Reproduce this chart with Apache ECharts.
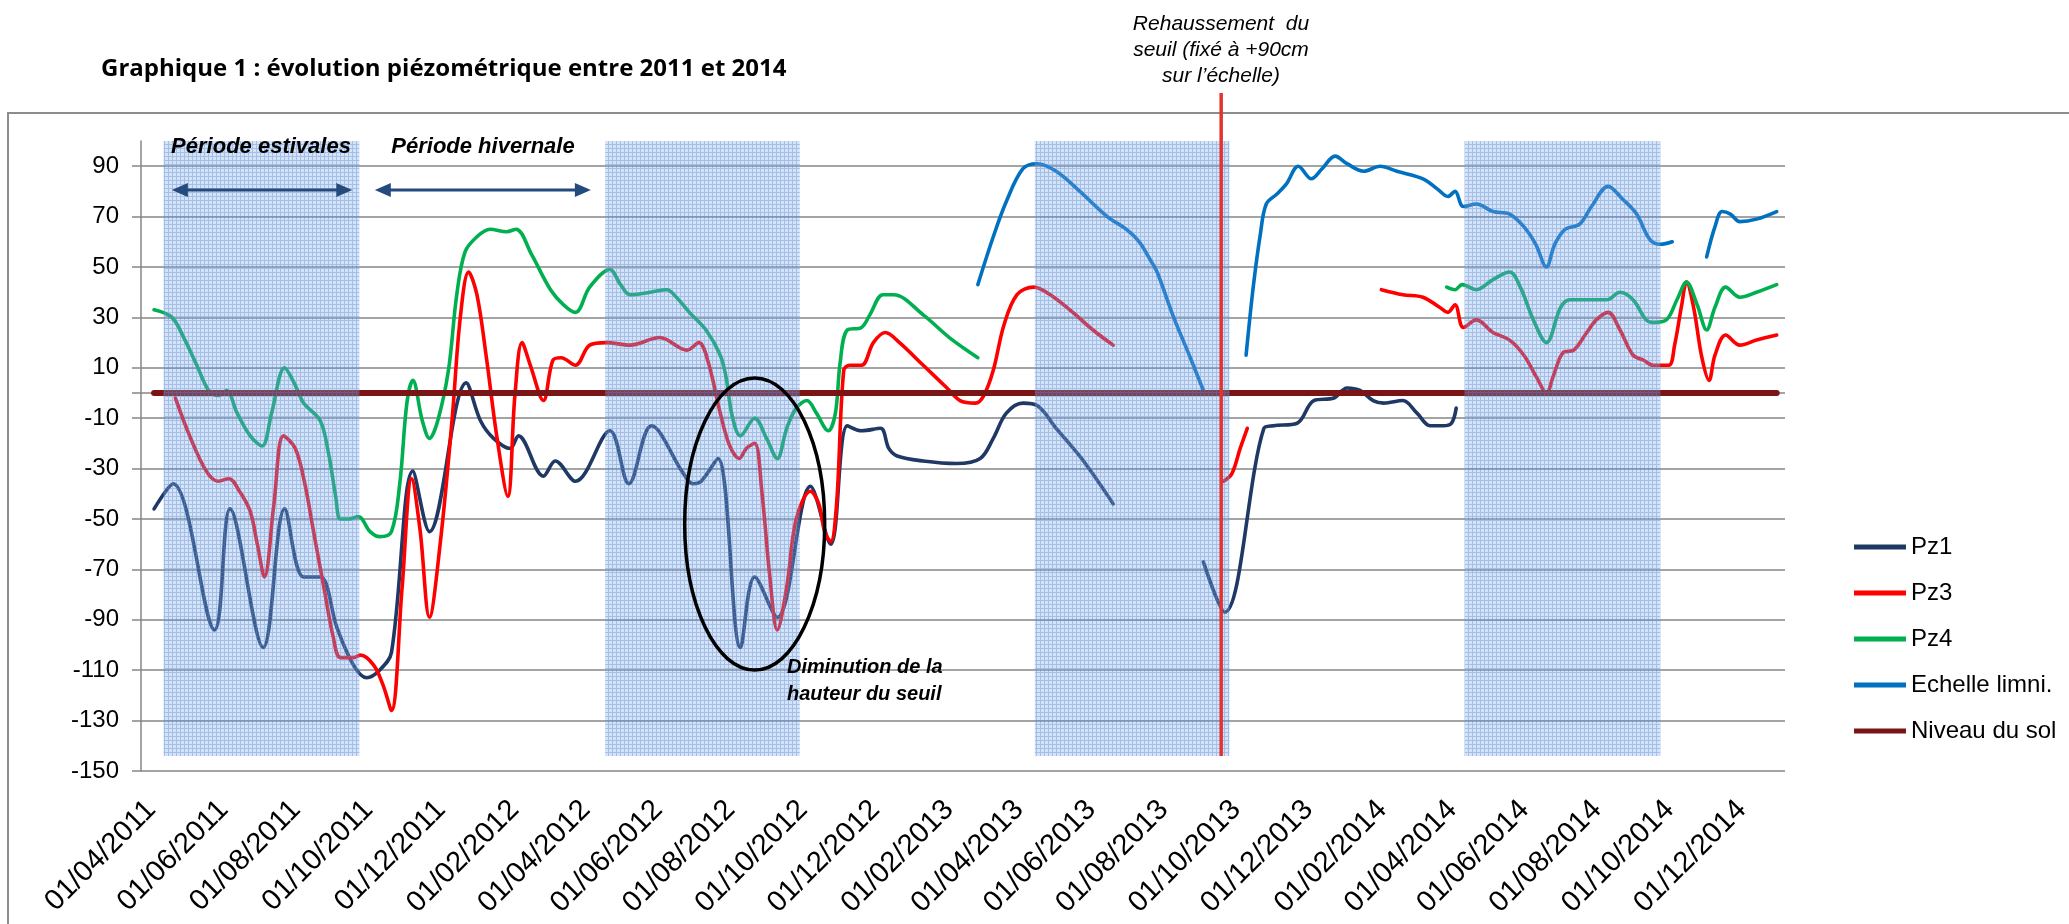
<!DOCTYPE html>
<html><head><meta charset="utf-8">
<script src="https://cdn.jsdelivr.net/npm/echarts@6/dist/echarts.min.js"></script>
<style>html,body{margin:0;padding:0;background:#fff;}#chart{width:2069px;height:924px;}</style>
</head><body><div id="chart"></div>
<script>
// ---------- DATA (x = day offset from 01/04/2011, y = level in cm) ----------
const xTickLabels = ['01/04/2011','01/06/2011','01/08/2011','01/10/2011','01/12/2011','01/02/2012','01/04/2012','01/06/2012','01/08/2012','01/10/2012','01/12/2012','01/02/2013','01/04/2013','01/06/2013','01/08/2013','01/10/2013','01/12/2013','01/02/2014','01/04/2014','01/06/2014','01/08/2014','01/10/2014','01/12/2014'];
const yTickLabels = [-150,-130,-110,-90,-70,-50,-30,-10,10,30,50,70,90];
const seriesNames = ['Pz1','Pz3','Pz4','Echelle limni.','Niveau du sol'];

const pz1 = [[11,-46],[27,-36],[62,-94],[75,-46],[103,-101],[121,-46],[137,-73],[151,-73],[165,-93],[179,-108],[190,-113],[201,-110],[211,-103],[229,-31],[243,-55],[274,4],[286,-11],[297,-18],[311,-22],[318,-17],[339,-33],[349,-27],[366,-35],[395,-15],[411,-36],[430,-13],[457,-32],[465,-36],[472,-35],[486,-26],[505,-101],[517,-73],[536,-89],[564,-37],[581,-60],[595,-13],[607,-15],[623,-14],[630,-22],[637,-25],[659,-27],[687,-28],[707,-26],[718,-18],[729,-8],[743,-4],[755,-5],[771,-14],[794,-27],[819,-44],[857,null],[895,-67],[913,-87],[946,-14],[954,-13],[974,-12],[988,-3],[1005,-2],[1016,2],[1027,1],[1038,-3],[1047,-4],[1063,-3],[1075,-8],[1086,-13],[1097,-13],[1104,-12],[1108,-6]];

const pz3 = [[29,-2],[41,-17],[55,-31],[65,-35],[74,-34],[83,-39],[92,-47],[98,-60],[104,-73],[112,-44],[120,-17],[130,-22],[138,-36],[145,-54],[154,-77],[162,-97],[168,-105],[179,-105],[185,-104],[196,-108],[204,-116],[211,-126],[220,-77],[228,-34],[235,-54],[243,-89],[252,-60],[262,-11],[269,30],[276,48],[283,39],[291,14],[300,-18],[309,-41],[315,-1],[321,20],[328,11],[339,-3],[347,13],[354,14],[366,11],[378,19],[392,20],[412,19],[437,22],[460,17],[470,20],[478,12],[488,-8],[496,-21],[504,-26],[510,-22],[517,-20],[523,-39],[530,-74],[536,-94],[544,-77],[552,-50],[564,-39],[571,-44],[576,-55],[581,-59],[586,-44],[592,9],[597,11],[607,11],[617,20],[627,24],[639,20],[659,11],[679,2],[690,-3],[703,-4],[710,-1],[718,9],[727,27],[738,39],[752,42],[766,39],[785,32],[802,25],[819,19],[865,null],[912,-35],[919,-32],[926,-22],[932,-14],[990,null],[1045,41],[1063,39],[1080,38],[1094,34],[1101,32],[1107,35],[1114,26],[1125,29],[1139,24],[1153,21],[1165,15],[1176,6],[1184,0],[1190,7],[1198,16],[1207,17],[1218,24],[1226,29],[1236,32],[1246,25],[1257,15],[1266,13],[1274,11],[1287,11],[1292,19],[1298,35],[1302,44],[1308,34],[1315,14],[1321,5],[1326,15],[1335,23],[1347,19],[1361,21],[1378,23]];

const pz4 = [[11,33],[26,30],[36,22],[47,11],[57,1],[65,-1],[72,1],[81,-8],[92,-17],[102,-21],[110,-8],[121,10],[129,4],[137,-4],[151,-11],[158,-24],[164,-41],[168,-50],[175,-50],[183,-49],[193,-55],[201,-57],[211,-55],[218,-36],[224,-4],[229,5],[237,-11],[243,-18],[250,-11],[259,9],[266,39],[273,56],[283,62],[294,65],[308,64],[316,65],[329,55],[345,41],[356,35],[366,32],[378,42],[395,49],[404,43],[412,39],[429,40],[443,41],[451,38],[462,32],[476,25],[488,15],[493,6],[498,-9],[505,-17],[517,-10],[527,-18],[536,-26],[544,-14],[552,-6],[561,-3],[569,-8],[579,-15],[585,-8],[589,12],[595,25],[607,26],[614,31],[625,39],[634,39],[659,31],[681,22],[705,14],[900,null],[1100,42],[1107,41],[1113,43],[1125,41],[1139,45],[1153,48],[1162,42],[1173,29],[1184,20],[1196,34],[1204,37],[1218,37],[1235,37],[1246,40],[1257,37],[1268,29],[1274,28],[1285,29],[1294,37],[1302,44],[1311,35],[1319,25],[1326,34],[1335,42],[1347,38],[1361,40],[1378,43]];

const echelle = [[705,43],[718,62],[729,76],[743,89],[755,91],[771,88],[791,80],[814,70],[830,65],[841,60],[850,53],[856,48],[870,30],[884,14],[895,1],[913,null],[931,15],[937,42],[943,63],[948,75],[957,79],[965,83],[975,90],[986,85],[995,89],[1006,94],[1016,91],[1030,88],[1044,90],[1058,88],[1080,85],[1092,81],[1101,78],[1107,80],[1114,74],[1125,75],[1139,72],[1153,71],[1165,66],[1175,59],[1184,50],[1191,59],[1200,65],[1212,67],[1222,74],[1236,82],[1248,77],[1260,71],[1271,61],[1280,59],[1290,60],[1305,null],[1319,54],[1326,66],[1332,72],[1339,71],[1347,68],[1361,69],[1378,72]];

const niveauSol = [[11,0],[1378,0]];

// summer periods (shaded), as [start day, end day]
const summerPeriods = [[19,184],[391,555],[753,917],[1115,1280]];
const thresholdRaiseDay = 910;
// ---------------------------------------------------------------------------

const DAY_MS = 86400000, ORIGIN = Date.UTC(2011, 3, 1);
const labelToDay = s => { const p = s.split('/'); return Math.round((Date.UTC(+p[2], +p[1]-1, +p[0]) - ORIGIN) / DAY_MS); };
const tickDays = xTickLabels.map(labelToDay);
const labelOf = v => { const i = tickDays.indexOf(Math.round(v)); return i >= 0 ? xTickLabels[i] : ''; };

const colors = ['#1f3864','#ff0000','#00b050','#0070c0','#7b1414'];
const datasets = [pz1, pz3, pz4, echelle, niveauSol];

// pattern for summer periods
const pc = document.createElement('canvas'); pc.width = 4; pc.height = 4;
const g = pc.getContext('2d');
g.fillStyle = 'rgba(125,168,228,0.32)'; g.fillRect(0,0,4,4);
g.fillStyle = 'rgba(80,130,210,0.38)'; g.fillRect(0,0,4,1); g.fillRect(0,1,1,3);

const FONT = 'Liberation Sans';
const lineSeries = datasets.map((d, i) => ({
  name: seriesNames[i], type: 'line', data: d,
  showSymbol: false, symbol: 'none', smooth: i === 4 ? false : 0.35,
  connectNulls: false, z: 2 + (i === 4 ? 1 : 0),
  color: colors[i], itemStyle: {color: colors[i]},
  lineStyle: {color: colors[i], width: i === 4 ? 6 : 3.6, cap: 'round', join: 'round'},
  emphasis: {disabled: true}, silent: true
}));

const option = {
  animation: false,
  backgroundColor: '#fff',
  grid: {left: 141, right: 284, top: 141, bottom: 153, containLabel: false, outerBoundsMode: 'none'},
  xAxis: {
    type: 'value', min: 0, max: 1385,
    axisLine: {show: false}, axisTick: {show: false}, splitLine: {show: false},
    axisLabel: {customValues: tickDays, formatter: v => labelOf(v), rotate: 45,
      align: 'right', verticalAlign: 'top',
      fontFamily: FONT, fontSize: 29, color: '#000', margin: 24, hideOverlap: false}
  },
  yAxis: {
    type: 'value', min: -150, max: 100,
    axisLine: {show: true, lineStyle: {color: '#868686', width: 1.5}},
    axisTick: {show: true, length: 9, customValues: yTickLabels.concat([0]), lineStyle: {color: '#868686', width: 1.5}},
    axisLabel: {customValues: yTickLabels, fontFamily: FONT, fontSize: 24, color: '#000', margin: 22},
    splitLine: {show: true, lineStyle: {color: '#868686', width: 1.5}}
  },
  legend: {
    orient: 'vertical', left: 1849, top: 530, icon: 'rect', itemWidth: 52, itemHeight: 5,
    itemGap: 22, itemTextGap: 5, data: seriesNames, selectedMode: false,
    textStyle: {fontFamily: FONT, fontSize: 24, color: '#000', lineHeight: 24}
  },
  series: lineSeries.concat([{
    type: 'custom', name: 'bands', z: 10, silent: true,
    data: summerPeriods.map(p => [p[0], p[1], -144, 100]),
    encode: {x: [0, 1], y: [2, 3]},
    renderItem: (params, api) => {
      const a = api.coord([api.value(0), api.value(3)]);
      const b = api.coord([api.value(1), api.value(2)]);
      return {type: 'rect', shape: {x: a[0], y: a[1], width: b[0]-a[0], height: b[1]-a[1]},
        style: {fill: {image: pc, repeat: 'repeat'}}};
    }
  }])
};

const chart = echarts.init(document.getElementById('chart'), null, {renderer: 'canvas', width: 2069, height: 924});
chart.setOption(option);

const px = (d, v) => chart.convertToPixel({gridIndex: 0}, [d, v]);
const redX = px(thresholdRaiseDay, 0)[0];
const ell = px(517, -52);
const arrowY = 190, arrowColor = '#254a7c';
function arrow(d1, d2) {
  const x1 = px(d1, 0)[0], x2 = px(d2, 0)[0];
  return [
    {type: 'line', z: 100, shape: {x1: x1 + 10, y1: arrowY, x2: x2 - 10, y2: arrowY}, style: {stroke: arrowColor, lineWidth: 3}},
    {type: 'polygon', z: 100, shape: {points: [[x1, arrowY], [x1 + 16, arrowY - 7], [x1 + 16, arrowY + 7]]}, style: {fill: arrowColor}},
    {type: 'polygon', z: 100, shape: {points: [[x2, arrowY], [x2 - 16, arrowY - 7], [x2 - 16, arrowY + 7]]}, style: {fill: arrowColor}}
  ];
}
const txt = (x, y, text, font, align, va, lh) => ({type: 'text', z: 110, x: x, y: y,
  style: {text: text, font: font, fill: '#000', align: align, textAlign: align, verticalAlign: va, textVerticalAlign: va, lineHeight: lh || 24}});

chart.setOption({graphic: [
  {type: 'rect', z: 0, shape: {x: 8, y: 113, width: 2200, height: 1000}, style: {fill: null, stroke: '#8c8c8c', lineWidth: 2}},
  txt(101, 69, 'Graphique 1 : évolution piézométrique entre 2011 et 2014', 'bold 24px "Open Sans"', 'left', 'middle'),
  txt(1221, 11, 'Rehaussement  du\nseuil (fixé à +90cm\nsur l’échelle)', 'italic 21px "Liberation Sans"', 'center', 'top', 26),
  {type: 'line', z: 105, shape: {x1: redX, y1: 93, x2: redX, y2: 756}, style: {stroke: '#e3332f', lineWidth: 3.5}},
  txt(261, 147, 'Période estivales', 'italic bold 22px "Liberation Sans"', 'center', 'middle'),
  txt(483, 147, 'Période hivernale', 'italic bold 22px "Liberation Sans"', 'center', 'middle'),
  ...arrow(26, 178), ...arrow(197, 379),
  {type: 'ellipse', z: 105, shape: {cx: ell[0], cy: ell[1], rx: 70, ry: 146}, style: {fill: null, stroke: '#000', lineWidth: 3.5}},
  txt(787, 654, 'Diminution de la\nhauteur du seuil', 'italic bold 20px "Liberation Sans"', 'left', 'top', 27)
]});
</script></body></html>
